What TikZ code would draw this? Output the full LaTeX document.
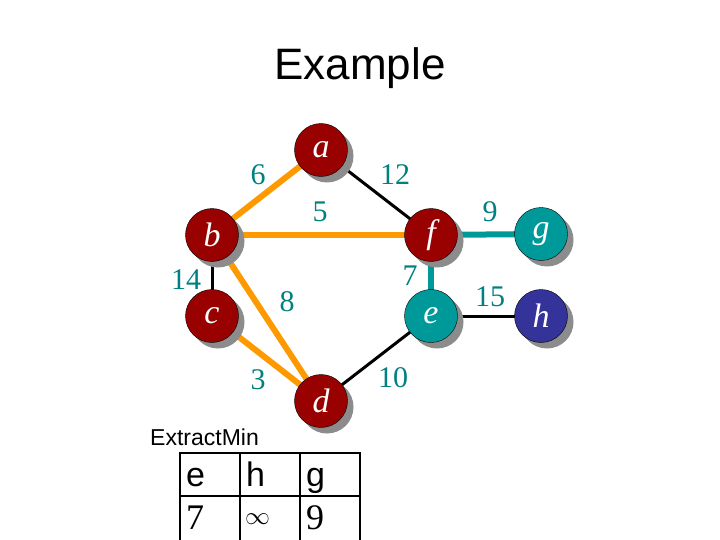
\documentclass[tikz,border=0pt]{standalone}
\usepackage{fontspec}
\setmainfont{Liberation Serif}
\setsansfont{Liberation Sans}
\usetikzlibrary{shadows}
\definecolor{nodered}{RGB}{153,0,0}
\definecolor{nodeteal}{RGB}{0,153,153}
\definecolor{nodeblue}{RGB}{51,51,153}
\definecolor{edgeorange}{RGB}{255,153,0}
\definecolor{labelteal}{RGB}{0,128,128}
\tikzstyle{vertex} = [circle, minimum size=53pt, inner sep=0pt, draw=black, thin, fill=nodered, text=white, font=\fontsize{34}{34}\selectfont\itshape, drop shadow={shadow xshift=6pt, shadow yshift=-6pt, fill=black!45, opacity=1}]
\tikzstyle{weight} = [text=labelteal, font=\fontsize{30}{30}\selectfont]
\tikzstyle{tree} = [line width=6pt, draw=edgeorange]
\tikzstyle{plain} = [line width=3pt, draw=black]
\tikzstyle{chosen} = [line width=6pt, draw=nodeteal]
\tikzstyle{cell} = [anchor=base west, inner sep=0pt]

\begin{document}
\begin{tikzpicture}[x=1pt, y=-1pt]
\useasboundingbox (0,0) rectangle (720,540);

% Title
\node (T) at (360,68) {\sffamily\fontsize{44}{44}\selectfont Example};

% Edges (drawn below the vertices)
\coordinate (pa) at (321,150);
\coordinate (pb) at (212,235);
\coordinate (pc) at (212,316);
\coordinate (pd) at (321,401);
\coordinate (pe) at (431,316);
\coordinate (pf) at (431,235);
\coordinate (pg) at (541,234);
\coordinate (ph) at (541,316);

\draw [tree] (pa) -- (pb);
\draw [plain] (pa) -- (pf);
\draw [tree] (pb) -- (pf);
\draw [plain] (pb) -- (pc);
\draw [tree] (pb) -- (pd);
\draw [tree] (pc) -- (pd);
\draw [plain] (pd) -- (pe);
\draw [chosen] (pf) -- (pe);
\draw [chosen] (pf) -- (pg);
\draw [plain] (pe) -- (ph);

% Vertices
\node (a) [vertex] at (pa) {a};
\node (b) [vertex] at (pb) {b};
\node (c) [vertex] at (pc) {c};
\node (d) [vertex] at (pd) {d};
\node (e) [vertex, fill=nodeteal] at (pe) {e};
\node (f) [vertex] at (pf) {f};
\node (g) [vertex, fill=nodeteal] at (pg) {g};
\node (h) [vertex, fill=nodeblue] at (ph) {h};

% Weights
\node (w6) [weight] at (258,175) {6};
\node (w12) [weight] at (395,175) {12};
\node (w5) [weight] at (320,212) {5};
\node (w14) [weight] at (186,280) {14};
\node (w8) [weight] at (287,302) {8};
\node (w3) [weight] at (258,380) {3};
\node (w10) [weight] at (393,378) {10};
\node (w7) [weight] at (410,276) {7};
\node (w9) [weight] at (490,212) {9};
\node (w15) [weight] at (490,297) {15};

% Queue
\node (X) [anchor=west, inner sep=0pt] at (150,437) {\sffamily\fontsize{23}{23}\selectfont ExtractMin};
\draw [line width=2.5pt] (180,560) -- (180,453) -- (360,453) -- (360,560);
\draw [line width=2.5pt] (240,453) -- (240,560);
\draw [line width=2.5pt] (300,453) -- (300,560);
\draw [line width=2.5pt] (180,496) -- (360,496);
\node (q1) [cell] at (186,486) {\sffamily\fontsize{34}{34}\selectfont e};
\node (q2) [cell] at (246,486) {\sffamily\fontsize{34}{34}\selectfont h};
\node (q3) [cell] at (306,486) {\sffamily\fontsize{34}{34}\selectfont g};
\node (k1) [cell] at (186,529) {\fontsize{36}{36}\selectfont 7};
\node (k2) [cell] at (245,524) {\fontsize{30}{30}\selectfont$\infty$};
\node (k3) [cell] at (306,529) {\fontsize{36}{36}\selectfont 9};

\end{tikzpicture}
\end{document}
